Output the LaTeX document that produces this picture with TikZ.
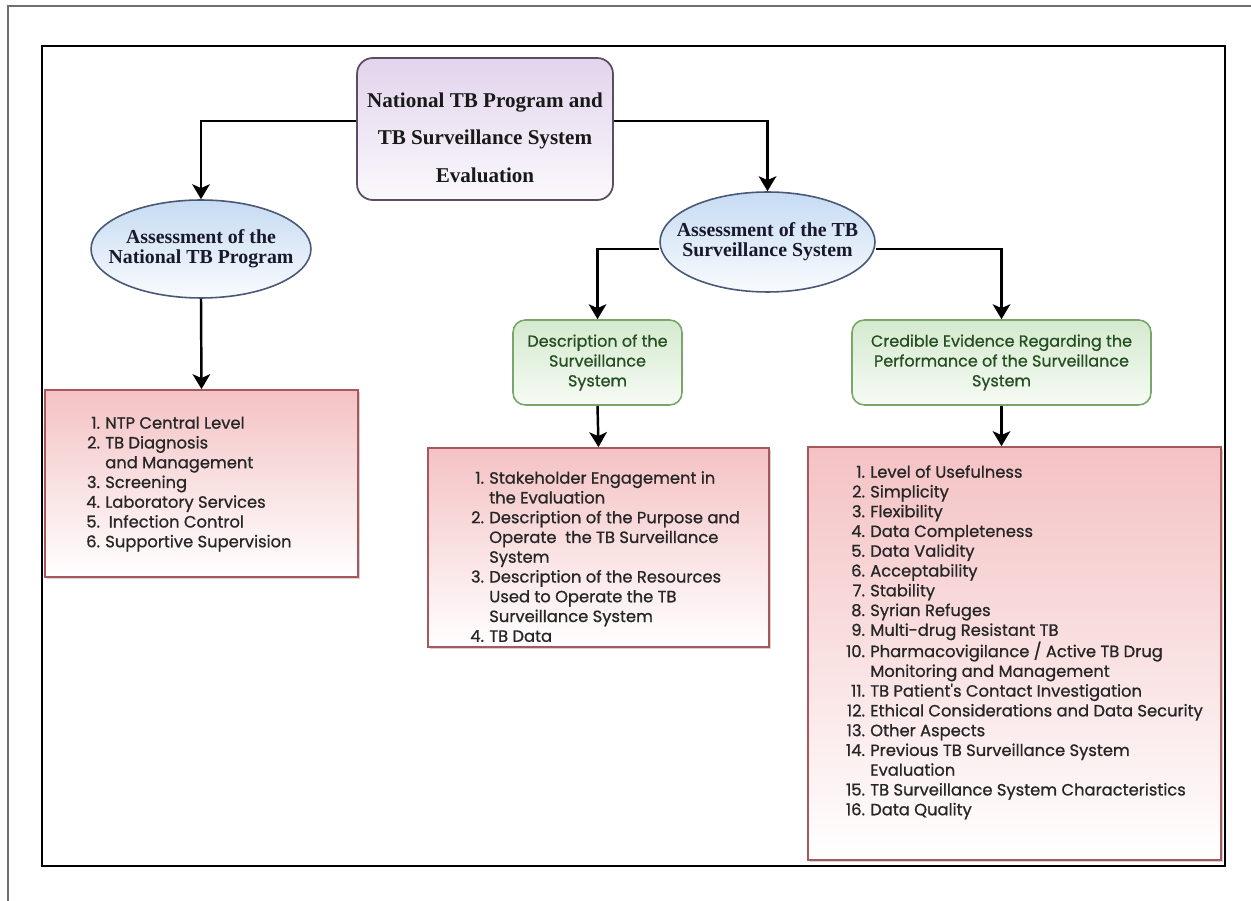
\documentclass[tikz,border=0pt]{standalone}
\usepackage{fontspec}
\setmainfont{Liberation Serif}
\newfontfamily\listfont{Poppins}[FakeBold=0.8]
\usepackage{array}
\usepackage{tikz}
\usetikzlibrary{shapes,arrows.meta,positioning,calc,shadows}
\definecolor{evalpurple}{RGB}{226,212,236}
\definecolor{evalborder}{RGB}{92,78,98}
\definecolor{assessblue}{RGB}{198,219,242}
\definecolor{assessborder}{RGB}{72,88,118}
\definecolor{assesstext}{RGB}{25,25,45}
\definecolor{descgreen}{RGB}{212,234,206}
\definecolor{descborder}{RGB}{122,166,106}
\definecolor{desctext}{RGB}{38,78,34}
\definecolor{listpink}{RGB}{244,194,196}
\definecolor{listborder}{RGB}{168,88,92}
\definecolor{framegray}{RGB}{110,110,110}
\newcolumntype{N}[1]{>{\raggedleft\arraybackslash}p{#1}}

\tikzset{
  flow/.style={-{Stealth[length=8.5pt,width=10pt,inset=2.2pt]}, line width=1.4pt},
  evalbox/.style={draw=evalborder, line width=1pt, rounded corners=9pt, top color=evalpurple, bottom color=evalpurple!15, minimum width=5.12cm, minimum height=2.84cm},
  evaltext/.style={font=\bfseries\fontsize{12}{21.3}\selectfont, align=center, text=black!90},
  assess/.style={ellipse, draw=assessborder, line width=0.9pt, top color=assessblue, bottom color=assessblue!10, inner xsep=-9pt, inner ysep=0pt, text=assesstext, font=\bfseries\fontsize{11.3}{11.5}\selectfont, align=center},
  descbox/.style={draw=descborder, line width=0.9pt, rounded corners=7pt, top color=descgreen, bottom color=descgreen!20, text=desctext, font=\listfont\fontsize{9.1}{11.3}\selectfont, align=center, minimum height=1.7cm},
  listbox/.style={draw=listborder, line width=1pt, top color=listpink, bottom color=white, drop shadow={shadow xshift=1.2pt, shadow yshift=-1.2pt, opacity=0.35}},
  listtext/.style={anchor=north west, inner sep=0pt, font=\listfont\fontsize{9.3}{11.25}\selectfont, text=black!85}
}

\begin{document}
\begin{tikzpicture}[x=0.02cm, y=-0.02cm]
\useasboundingbox (0,0) rectangle (1251,901);

% Frames
\draw[framegray, line width=0.8pt] (8,901) -- (8,6) -- (1251,6);
\draw[line width=1.4pt] (42,46) rectangle (1225,866);

% Top box
\node[evalbox] (evalBox) at (485,129) {};
\node[evaltext] (evalText) at (485,137.5) {National TB Program and\\TB Surveillance System\\Evaluation};

% Assessment ellipses
\node[assess, minimum width=4.4cm, minimum height=1.96cm] (ntpAssess) at (201,249) {Assessment of the\\National TB Program};
\node[assess, minimum width=4.3cm, minimum height=2cm] (tbAssess) at (767.5,242) {Assessment of the TB\\Surveillance System};

% Green boxes
\node[descbox, minimum width=3.38cm] (descBox) at (597.5,362.5) {Description of the\\Surveillance\\System};
\node[descbox, minimum width=5.98cm] (evidBox) at (1001.5,362.5) {Credible Evidence Regarding the\\Performance of the Surveillance\\System};

% Pink boxes
\node[listbox, minimum width=6.26cm, minimum height=3.74cm] (ntpList) at (201.5,483.5) {};
\node[listbox, minimum width=6.82cm, minimum height=3.98cm] (descList) at (598.5,547.5) {};
\node[listbox, minimum width=8.26cm, minimum height=8.26cm] (evidList) at (1014.5,653.5) {};

% List texts
\node[listtext] (ntpItems) at (85.6,414.5) {\begin{tabular}{@{}N{8pt}@{\hspace{3pt}}l@{}}
1. & NTP Central Level\\
2. & TB Diagnosis\\
   & and Management\\
3. & Screening\\
4. & Laboratory Services\\
5. & \hspace{2pt}Infection Control\\
6. & Supportive Supervision
\end{tabular}};
\node[listtext] (descItems) at (469.6,469.5) {\begin{tabular}{@{}N{8pt}@{\hspace{3pt}}l@{}}
1. & Stakeholder Engagement in\\
   & the Evaluation\\
2. & Description of the Purpose and\\
   & Operate\ \ the TB Surveillance\\
   & System\\
3. & Description of the Resources\\
   & Used to Operate the TB\\
   & Surveillance System\\
4. & TB Data
\end{tabular}};
\node[listtext] (evidItems) at (841.8,463.5) {\begin{tabular}{@{}N{13pt}@{\hspace{3pt}}l@{}}
1. & Level of Usefulness\\
2. & Simplicity\\
3. & Flexibility\\
4. & Data Completeness\\
5. & Data Validity\\
6. & Acceptability\\
7. & Stability\\
8. & Syrian Refuges\\
9. & Multi-drug Resistant TB\\
10. & Pharmacovigilance / Active TB Drug\\
    & Monitoring and Management\\
11. & TB Patient's Contact Investigation\\
12. & Ethical Considerations and Data Security\\
13. & Other Aspects\\
14. & Previous TB Surveillance System\\
    & Evaluation\\
15. & TB Surveillance System Characteristics\\
16. & Data Quality
\end{tabular}};

% Connectors
\draw[flow] ([yshift=4.5pt]evalBox.west) -| (ntpAssess.north);
\draw[flow] ([yshift=4.5pt]evalBox.east) -| (tbAssess.north);
\draw[flow] ([yshift=-4pt]tbAssess.west) -| (descBox.north);
\draw[flow] ([yshift=-4pt]tbAssess.east) -| (evidBox.north);
\draw[flow] (ntpAssess.south) -- (ntpList.north);
\draw[flow] (descBox.south) -- (descList.north);
\draw[flow] (evidBox.south) -- (evidBox.south |- evidList.north);
\end{tikzpicture}
\end{document}
